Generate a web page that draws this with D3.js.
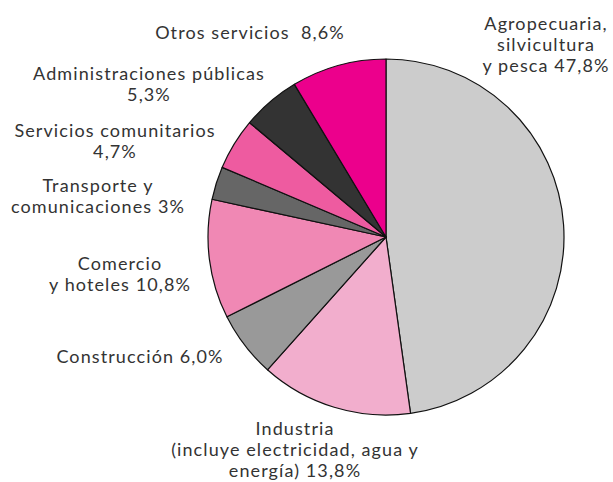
<!DOCTYPE html>
<html>
<head>
<meta charset="utf-8">
<script src="https://cdn.jsdelivr.net/npm/d3@7"></script>
<style>
  body { margin: 0; background: #fff; }
  text { font-family: Lato, "Open Sans", sans-serif; font-size: 18px; letter-spacing: 1.1px; fill: #333; white-space: pre; }
</style>
</head>
<body>
<script>
var w = 613, h = 482;

// sectors, clockwise from 12 o'clock
var categories = ["Agropecuaria", "Industria", "Construcción", "Comercio",
                  "Transporte", "Servicios comunitarios", "Administraciones públicas", "Otros servicios"];
var values = [47.8, 13.8, 6.0, 10.8, 3, 4.7, 5.3, 8.6];
var labels = [
  ["Agropecuaria,", "silvicultura", "y pesca 47,8%"],
  ["Industria", "(incluye electricidad, agua y", "energía) 13,8%"],
  ["Construcción 6,0%"],
  ["Comercio", "y hoteles 10,8%"],
  ["Transporte y", "comunicaciones 3%"],
  ["Servicios comunitarios", "4,7%"],
  ["Administraciones públicas", "5,3%"],
  ["Otros servicios  8,6%"]
];
var colors = ["#cccccc", "#f2aecd", "#999999", "#f088b4", "#666666", "#ee5ba0", "#333333", "#ec008c"];

// label anchor (centre x, first baseline y)
var labelPos = [[546, 30], [295, 435], [140, 363], [120, 270], [98, 192], [115, 137], [149, 80], [250, 39]];

var cx = 386, cy = 237, r = 178;

var svg = d3.select("body")
  .append("svg")
  .attr("width", w)
  .attr("height", h);

var pie = d3.pie().sort(null).value(function(d){ return d; });
var arc = d3.arc().innerRadius(0).outerRadius(r);

svg.append("g")
  .attr("transform", "translate(" + cx + "," + cy + ")")
  .selectAll("path")
  .data(pie(values))
  .join("path")
  .attr("d", arc)
  .attr("fill", function(d, i){ return colors[i]; })
  .attr("stroke", "#111")
  .attr("stroke-width", 1.2)
  .attr("stroke-linejoin", "round");

var lab = svg.append("g")
  .selectAll("text")
  .data(labels)
  .join("text")
  .attr("text-anchor", "middle")
  .attr("x", function(d, i){ return labelPos[i][0]; })
  .attr("y", function(d, i){ return labelPos[i][1]; });

lab.selectAll("tspan")
  .data(function(d, i){ return d.map(function(t){ return {t: t, i: i}; }); })
  .join("tspan")
  .attr("x", function(d){ return labelPos[d.i][0]; })
  .attr("dy", function(d, j){ return j ? 20.8 : 0; })
  .text(function(d){ return d.t; });
</script>
</body>
</html>
